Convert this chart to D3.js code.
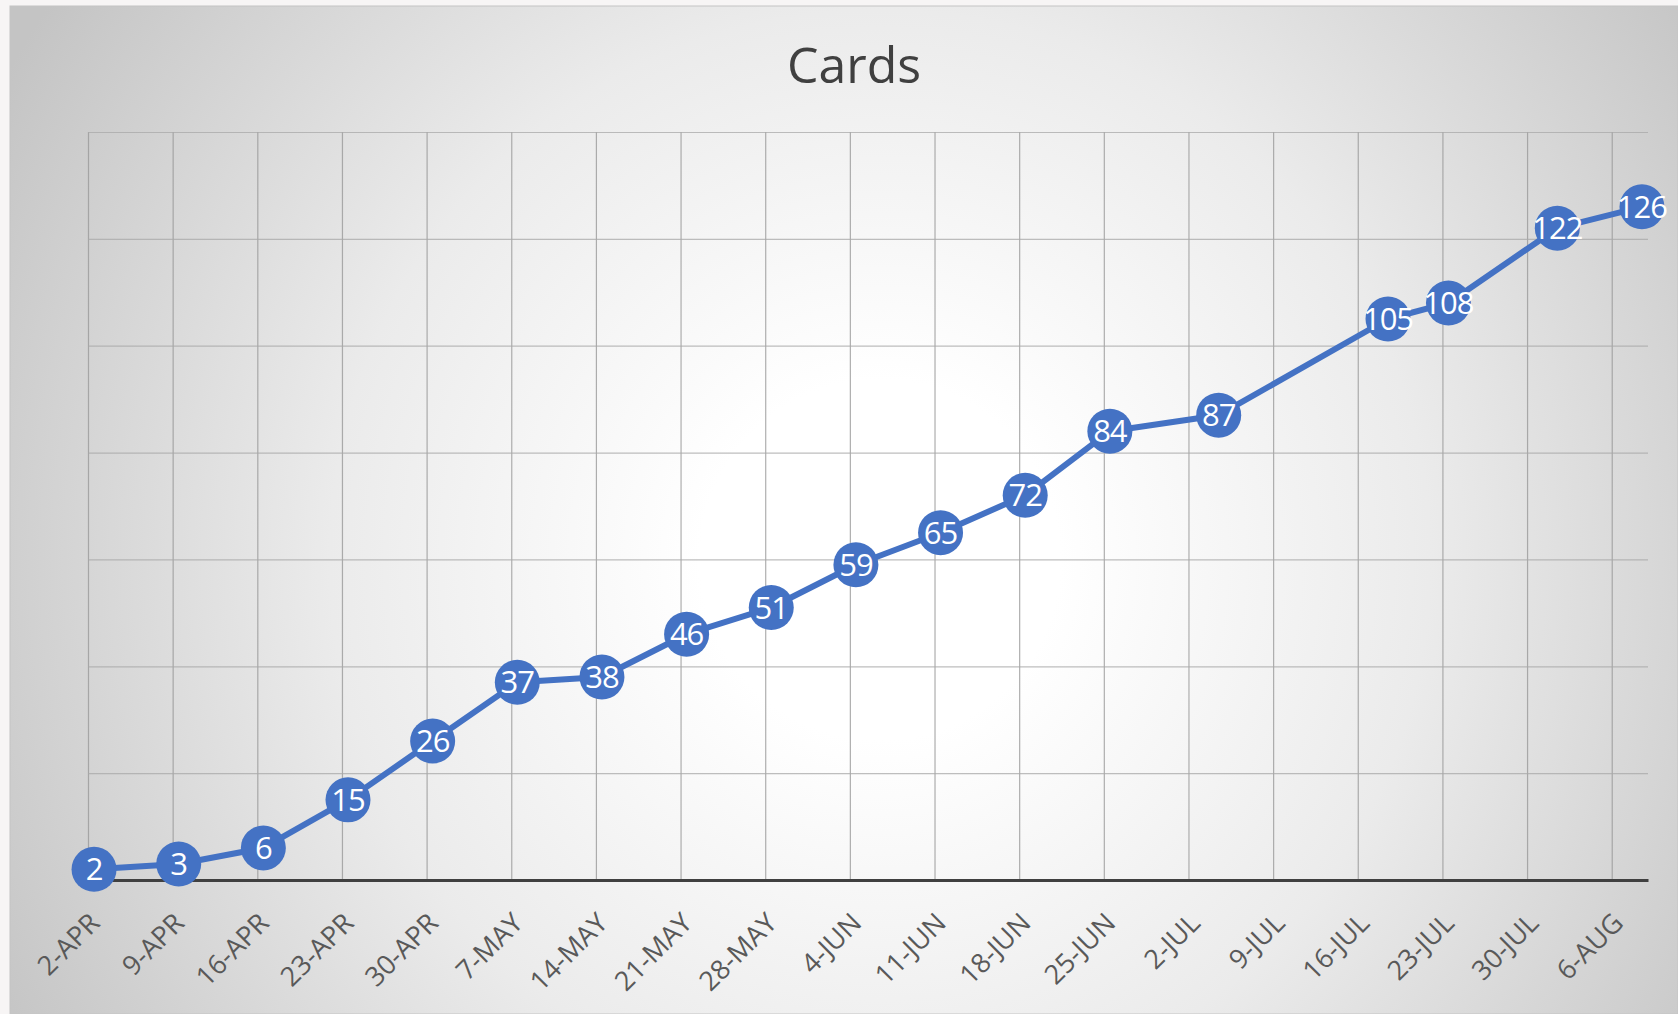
<!DOCTYPE html>
<html>
<head>
	<meta charset="UTF-8" />
	<title>Cards</title>
	<script src="https://d3js.org/d3.v7.min.js"></script>
	<style>
		body { margin: 0; background: #f7f5f5; overflow: hidden; }
		text { font-family: "Open Sans", sans-serif; }
	</style>
</head>
<body>
	<div id="chart"></div>

	<script>
	var title = "Cards";
	var pointDates = ["2018-04-02", "2018-04-09", "2018-04-16", "2018-04-23", "2018-04-30", "2018-05-07",
	                  "2018-05-14", "2018-05-21", "2018-05-28", "2018-06-04", "2018-06-11", "2018-06-18",
	                  "2018-06-25", "2018-07-04", "2018-07-18", "2018-07-23", "2018-08-01", "2018-08-08"];
	var cardCounts = [2, 3, 6, 15, 26, 37, 38, 46, 51, 59, 65, 72, 84, 87, 105, 108, 122, 126];
	var tickDates = ["2018-04-02", "2018-04-09", "2018-04-16", "2018-04-23", "2018-04-30", "2018-05-07",
	                 "2018-05-14", "2018-05-21", "2018-05-28", "2018-06-04", "2018-06-11", "2018-06-18",
	                 "2018-06-25", "2018-07-02", "2018-07-09", "2018-07-16", "2018-07-23", "2018-07-30", "2018-08-06"];
	var tickLabels = ["2-APR", "9-APR", "16-APR", "23-APR", "30-APR", "7-MAY", "14-MAY", "21-MAY", "28-MAY",
	                  "4-JUN", "11-JUN", "18-JUN", "25-JUN", "2-JUL", "9-JUL", "16-JUL", "23-JUL", "30-JUL", "6-AUG"];
	var yTicks = [20, 40, 60, 80, 100, 120, 140];

	var W = 1678, H = 1014;
	var plotL = 88, plotR = 1648, plotT = 132, plotB = 880;
	var parse = d3.utcParse("%Y-%m-%d");

	var svg = d3.select("#chart")
	            .append("svg")
	            .attr("width", W)
	            .attr("height", H);

	var grad = svg.append("defs")
	              .append("radialGradient")
	              .attr("id", "bg")
	              .attr("gradientUnits", "userSpaceOnUse")
	              .attr("cx", 880).attr("cy", 560).attr("r", 1000);
	grad.append("stop").attr("offset", 0).attr("stop-color", "#ffffff");
	grad.append("stop").attr("offset", 0.18).attr("stop-color", "#ffffff");
	grad.append("stop").attr("offset", 0.55).attr("stop-color", "#ebebeb");
	grad.append("stop").attr("offset", 1).attr("stop-color", "#c4c4c4");

	svg.append("rect")
	   .attr("x", 10).attr("y", 6)
	   .attr("width", W - 10).attr("height", H - 6)
	   .attr("fill", "url(#bg)")
	   .attr("stroke", "#c4c4c4")
	   .attr("stroke-width", 1);

	svg.append("text")
	   .attr("x", 854).attr("y", 83)
	   .attr("text-anchor", "middle")
	   .attr("font-size", 50)
	   .attr("fill", "#404040")
	   .text(title);

	var x = d3.scaleUtc()
	          .domain([parse("2018-04-02"), parse("2018-08-09")])
	          .range([plotL, plotR]);
	var y = d3.scaleLinear()
	          .domain([0, 140])
	          .range([plotB, plotT]);
	var halfDay = (x(parse("2018-04-03")) - x(parse("2018-04-02"))) / 2;

	// grid
	svg.append("g")
	   .attr("transform", "translate(0," + plotB + ")")
	   .call(d3.axisBottom(x).tickValues(tickDates.map(parse)).tickSize(-(plotB - plotT)).tickFormat(""))
	   .call(function (g) { g.select(".domain").remove(); })
	   .selectAll("line")
	   .attr("stroke", "#9a9a9a")
	   .attr("stroke-opacity", 0.8)
	   .attr("stroke-width", 1.2);

	svg.append("g")
	   .attr("transform", "translate(" + plotL + ",0)")
	   .call(d3.axisLeft(y).tickValues(yTicks).tickSize(-(plotR - plotL)).tickFormat(""))
	   .call(function (g) { g.select(".domain").remove(); })
	   .selectAll("line")
	   .attr("stroke", "#a8a8a8")
	   .attr("stroke-opacity", 0.75)
	   .attr("stroke-width", 1.2);

	// x axis + labels
	var xAxis = svg.append("g")
	               .attr("transform", "translate(0," + plotB + ")")
	               .call(d3.axisBottom(x).tickValues(tickDates.map(parse)).tickSize(0)
	                      .tickFormat(function (d, i) { return tickLabels[i]; }));
	xAxis.select(".domain")
	     .attr("stroke", "#404040")
	     .attr("stroke-width", 3);
	xAxis.selectAll("text")
	     .attr("x", 0).attr("y", 0).attr("dy", "0.35em")
	     .attr("transform", "translate(" + halfDay + ",38) rotate(-45)")
	     .attr("text-anchor", "end")
	     .attr("font-size", 27)
	     .attr("font-family", "Open Sans, sans-serif")
	     .attr("fill", "#595959");

	var points = pointDates.map(function (d, i) { return { date: parse(d), value: cardCounts[i] }; });
	var px = function (d) { return x(d.date) + halfDay; };

	svg.append("path")
	   .datum(points)
	   .attr("d", d3.line().x(px).y(function (d) { return y(d.value); }))
	   .attr("fill", "none")
	   .attr("stroke", "#4472c4")
	   .attr("stroke-width", 6)
	   .attr("stroke-linejoin", "round");

	var dots = svg.append("g")
	              .selectAll("g")
	              .data(points)
	              .join("g")
	              .attr("transform", function (d) { return "translate(" + px(d) + "," + y(d.value) + ")"; });

	dots.append("circle")
	    .attr("r", 22.5)
	    .attr("fill", "#4472c4");

	dots.append("text")
	    .attr("text-anchor", "middle")
	    .attr("dy", "0.36em")
	    .attr("font-size", 31)
	    .attr("letter-spacing", -1)
	    .attr("fill", "#ffffff")
	    .text(function (d) { return d.value; });
	</script>
</body>
</html>
